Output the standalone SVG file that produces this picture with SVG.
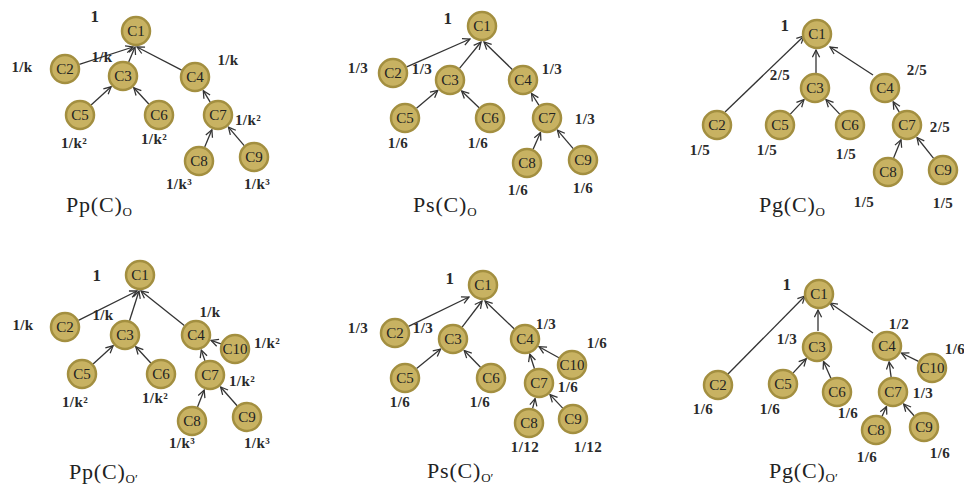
<svg xmlns="http://www.w3.org/2000/svg" width="964" height="487" viewBox="0 0 964 487">
<style>
.n circle{fill:#c8b262;stroke:#a38f40;stroke-width:2.5}
.n text{font-family:"Liberation Serif","Times New Roman",serif;font-size:15px;fill:#222;text-anchor:middle}
.e line{stroke:#333;stroke-width:1.3;marker-end:url(#ah)}
.w{font-family:"Liberation Serif","Times New Roman",serif;font-size:15px;font-weight:bold;fill:#2a2a2a;text-anchor:middle;letter-spacing:0.4px}
.one{font-size:17px}
.t{font-family:"Liberation Serif","Times New Roman",serif;font-size:22px;fill:#222;letter-spacing:0.8px}
.s{font-size:13px;letter-spacing:0}
</style>
<defs>
<marker id="ah" viewBox="0 0 10 10" refX="9" refY="5" markerWidth="9" markerHeight="9" markerUnits="userSpaceOnUse" orient="auto">
<path d="M1,1 L9,5 L1,9" fill="none" stroke="#333" stroke-width="1.4"/>
</marker>
</defs>
<rect width="964" height="487" fill="#fff"/>

<g id="connectors" class="e">
<!-- panel 1 -->
<line x1="79.3" y1="64.4" x2="133" y2="47"/>
<line x1="128.7" y1="62.1" x2="135" y2="47"/>
<line x1="181.7" y1="70.1" x2="137" y2="47"/>
<line x1="91.1" y1="104.9" x2="111.1" y2="86.8"/>
<line x1="148.8" y1="104" x2="133.8" y2="87.8"/>
<line x1="210.2" y1="102.2" x2="203.3" y2="90.7"/>
<line x1="204.7" y1="147.1" x2="211.9" y2="129.8"/>
<line x1="244.2" y1="145.6" x2="228.4" y2="127.1"/>
<!-- panel 2 -->
<line x1="406.7" y1="66.9" x2="470" y2="39"/>
<line x1="459.5" y1="68.4" x2="481" y2="42"/>
<line x1="512.3" y1="69.5" x2="484" y2="42"/>
<line x1="416.5" y1="108.3" x2="437.8" y2="90.3"/>
<line x1="479.1" y1="107.7" x2="461.6" y2="91"/>
<line x1="539" y1="105.3" x2="531.5" y2="93.5"/>
<line x1="533.1" y1="149.3" x2="540.5" y2="132.6"/>
<line x1="573.2" y1="148.6" x2="557.4" y2="130.1"/>
<!-- panel 3 -->
<line x1="725" y1="112" x2="804" y2="36"/>
<line x1="816" y1="73" x2="816" y2="50"/>
<line x1="873" y1="75" x2="830" y2="47"/>
<line x1="790.3" y1="114.1" x2="804" y2="99.6"/>
<line x1="839.7" y1="114.1" x2="826" y2="99.6"/>
<line x1="899.3" y1="112.1" x2="893.2" y2="101.8"/>
<line x1="893.6" y1="158.1" x2="901" y2="139.8"/>
<line x1="933.6" y1="158.3" x2="917" y2="137.5"/>
<!-- panel 4 -->
<line x1="78.4" y1="320.3" x2="137" y2="291"/>
<line x1="129.5" y1="320.7" x2="139" y2="291"/>
<line x1="184.3" y1="325.6" x2="141" y2="291"/>
<line x1="93.1" y1="363.9" x2="113.1" y2="345.8"/>
<line x1="150.8" y1="363" x2="135.8" y2="346.8"/>
<line x1="205" y1="360.9" x2="201.3" y2="350.1"/>
<line x1="220.9" y1="343.9" x2="211.1" y2="340.4"/>
<line x1="197.5" y1="407" x2="204.2" y2="390.1"/>
<line x1="237.1" y1="405.8" x2="220.6" y2="387"/>
<!-- panel 5 -->
<line x1="408.5" y1="326.4" x2="469" y2="297"/>
<line x1="462.1" y1="327.1" x2="482" y2="301"/>
<line x1="514.1" y1="328.7" x2="485" y2="301"/>
<line x1="416.6" y1="368.5" x2="440.6" y2="349.1"/>
<line x1="480.5" y1="367.3" x2="464.2" y2="350.5"/>
<line x1="534.5" y1="368.7" x2="529.8" y2="354.2"/>
<line x1="558.9" y1="357.7" x2="539" y2="346.7"/>
<line x1="532.6" y1="408.4" x2="535.1" y2="398.5"/>
<line x1="562.7" y1="408.1" x2="550" y2="394.6"/>
<!-- panel 6 -->
<line x1="727" y1="375" x2="805" y2="296"/>
<line x1="818" y1="331" x2="818" y2="310"/>
<line x1="873" y1="333" x2="830" y2="303"/>
<line x1="793.2" y1="372.9" x2="806.2" y2="358.8"/>
<line x1="830.9" y1="378.3" x2="823.5" y2="361.6"/>
<line x1="891.1" y1="377.1" x2="889.1" y2="361.9"/>
<line x1="918.5" y1="361.4" x2="901.4" y2="353"/>
<line x1="882.1" y1="416.3" x2="886.5" y2="406.6"/>
<line x1="914.1" y1="415.8" x2="903.6" y2="404"/>
</g>

<!-- panel 1 nodes -->
<g id="p1-C1" class="n"><circle cx="136" cy="31" r="14"/><text x="136" y="36">C1</text></g>
<g id="p1-C2" class="n"><circle cx="65" cy="69" r="14"/><text x="65" y="74">C2</text></g>
<g id="p1-C3" class="n"><circle cx="123" cy="76" r="14"/><text x="123" y="81">C3</text></g>
<g id="p1-C4" class="n"><circle cx="195" cy="77" r="14"/><text x="195" y="82">C4</text></g>
<g id="p1-C5" class="n"><circle cx="80" cy="115" r="14"/><text x="80" y="120">C5</text></g>
<g id="p1-C6" class="n"><circle cx="159" cy="115" r="14"/><text x="159" y="120">C6</text></g>
<g id="p1-C7" class="n"><circle cx="218" cy="115" r="14"/><text x="218" y="120">C7</text></g>
<g id="p1-C8" class="n"><circle cx="199" cy="161" r="14"/><text x="199" y="166">C8</text></g>
<g id="p1-C9" class="n"><circle cx="254" cy="157" r="14"/><text x="254" y="162">C9</text></g>

<!-- panel 2 nodes -->
<g id="p2-C1" class="n"><circle cx="482" cy="26" r="14"/><text x="482" y="31">C1</text></g>
<g id="p2-C2" class="n"><circle cx="393" cy="73" r="14"/><text x="393" y="78">C2</text></g>
<g id="p2-C3" class="n"><circle cx="450" cy="80" r="14"/><text x="450" y="85">C3</text></g>
<g id="p2-C4" class="n"><circle cx="523" cy="80" r="14"/><text x="523" y="85">C4</text></g>
<g id="p2-C5" class="n"><circle cx="405" cy="118" r="14"/><text x="405" y="123">C5</text></g>
<g id="p2-C6" class="n"><circle cx="490" cy="118" r="14"/><text x="490" y="123">C6</text></g>
<g id="p2-C7" class="n"><circle cx="547" cy="118" r="14"/><text x="547" y="123">C7</text></g>
<g id="p2-C8" class="n"><circle cx="527" cy="163" r="14"/><text x="527" y="168">C8</text></g>
<g id="p2-C9" class="n"><circle cx="583" cy="160" r="14"/><text x="583" y="165">C9</text></g>

<!-- panel 3 nodes -->
<g id="p3-C1" class="n"><circle cx="817" cy="34" r="14"/><text x="817" y="39">C1</text></g>
<g id="p3-C2" class="n"><circle cx="717" cy="125" r="14"/><text x="717" y="130">C2</text></g>
<g id="p3-C3" class="n"><circle cx="815" cy="88" r="14"/><text x="815" y="93">C3</text></g>
<g id="p3-C4" class="n"><circle cx="885" cy="88" r="14"/><text x="885" y="93">C4</text></g>
<g id="p3-C5" class="n"><circle cx="780" cy="125" r="14"/><text x="780" y="130">C5</text></g>
<g id="p3-C6" class="n"><circle cx="850" cy="125" r="14"/><text x="850" y="130">C6</text></g>
<g id="p3-C7" class="n"><circle cx="907" cy="125" r="14"/><text x="907" y="130">C7</text></g>
<g id="p3-C8" class="n"><circle cx="888" cy="172" r="14"/><text x="888" y="177">C8</text></g>
<g id="p3-C9" class="n"><circle cx="943" cy="170" r="14"/><text x="943" y="175">C9</text></g>

<!-- panel 4 nodes -->
<g id="p4-C1" class="n"><circle cx="140" cy="275" r="14"/><text x="140" y="280">C1</text></g>
<g id="p4-C2" class="n"><circle cx="65" cy="327" r="14"/><text x="65" y="332">C2</text></g>
<g id="p4-C3" class="n"><circle cx="125" cy="335" r="14"/><text x="125" y="340">C3</text></g>
<g id="p4-C4" class="n"><circle cx="196" cy="335" r="14"/><text x="196" y="340">C4</text></g>
<g id="p4-C10" class="n"><circle cx="235" cy="349" r="14"/><text x="235" y="354">C10</text></g>
<g id="p4-C5" class="n"><circle cx="82" cy="374" r="14"/><text x="82" y="379">C5</text></g>
<g id="p4-C6" class="n"><circle cx="161" cy="374" r="14"/><text x="161" y="379">C6</text></g>
<g id="p4-C7" class="n"><circle cx="210" cy="375" r="14"/><text x="210" y="380">C7</text></g>
<g id="p4-C8" class="n"><circle cx="192" cy="421" r="14"/><text x="192" y="426">C8</text></g>
<g id="p4-C9" class="n"><circle cx="247" cy="417" r="14"/><text x="247" y="422">C9</text></g>

<!-- panel 5 nodes -->
<g id="p5-C1" class="n"><circle cx="483" cy="285" r="14"/><text x="483" y="290">C1</text></g>
<g id="p5-C2" class="n"><circle cx="395" cy="333" r="14"/><text x="395" y="338">C2</text></g>
<g id="p5-C3" class="n"><circle cx="453" cy="339" r="14"/><text x="453" y="344">C3</text></g>
<g id="p5-C4" class="n"><circle cx="525" cy="339" r="14"/><text x="525" y="344">C4</text></g>
<g id="p5-C10" class="n"><circle cx="572" cy="365" r="14"/><text x="572" y="370">C10</text></g>
<g id="p5-C5" class="n"><circle cx="405" cy="378" r="14"/><text x="405" y="383">C5</text></g>
<g id="p5-C6" class="n"><circle cx="491" cy="378" r="14"/><text x="491" y="383">C6</text></g>
<g id="p5-C7" class="n"><circle cx="539" cy="383" r="14"/><text x="539" y="388">C7</text></g>
<g id="p5-C8" class="n"><circle cx="529" cy="423" r="14"/><text x="529" y="428">C8</text></g>
<g id="p5-C9" class="n"><circle cx="573" cy="419" r="14"/><text x="573" y="424">C9</text></g>

<!-- panel 6 nodes -->
<g id="p6-C1" class="n"><circle cx="819" cy="294" r="14"/><text x="819" y="299">C1</text></g>
<g id="p6-C2" class="n"><circle cx="718" cy="385" r="14"/><text x="718" y="390">C2</text></g>
<g id="p6-C3" class="n"><circle cx="817" cy="347" r="14"/><text x="817" y="352">C3</text></g>
<g id="p6-C4" class="n"><circle cx="887" cy="346" r="14"/><text x="887" y="351">C4</text></g>
<g id="p6-C10" class="n"><circle cx="932" cy="368" r="14"/><text x="932" y="373">C10</text></g>
<g id="p6-C5" class="n"><circle cx="783" cy="384" r="14"/><text x="783" y="389">C5</text></g>
<g id="p6-C6" class="n"><circle cx="837" cy="392" r="14"/><text x="837" y="397">C6</text></g>
<g id="p6-C7" class="n"><circle cx="893" cy="392" r="14"/><text x="893" y="397">C7</text></g>
<g id="p6-C8" class="n"><circle cx="876" cy="430" r="14"/><text x="876" y="435">C8</text></g>
<g id="p6-C9" class="n"><circle cx="924" cy="427" r="14"/><text x="924" y="432">C9</text></g>

<g id="weights">
<!-- panel 1 -->
<text class="w one" x="95" y="22">1</text>
<text class="w" x="22" y="72">1/k</text>
<text class="w" x="102" y="62">1/k</text>
<text class="w" x="228" y="65">1/k</text>
<text class="w" x="74" y="148">1/k²</text>
<text class="w" x="154" y="144">1/k²</text>
<text class="w" x="248" y="125">1/k²</text>
<text class="w" x="179" y="189">1/k³</text>
<text class="w" x="257" y="189">1/k³</text>
<!-- panel 2 -->
<text class="w one" x="448" y="24">1</text>
<text class="w" x="358" y="73">1/3</text>
<text class="w" x="422" y="74">1/3</text>
<text class="w" x="552" y="74">1/3</text>
<text class="w" x="585" y="124">1/3</text>
<text class="w" x="398" y="148">1/6</text>
<text class="w" x="478" y="148">1/6</text>
<text class="w" x="518" y="195">1/6</text>
<text class="w" x="583" y="193">1/6</text>
<!-- panel 3 -->
<text class="w one" x="785" y="31">1</text>
<text class="w" x="780" y="80">2/5</text>
<text class="w" x="917" y="75">2/5</text>
<text class="w" x="940" y="132">2/5</text>
<text class="w" x="700" y="155">1/5</text>
<text class="w" x="767" y="155">1/5</text>
<text class="w" x="846" y="159">1/5</text>
<text class="w" x="864" y="207">1/5</text>
<text class="w" x="943" y="208">1/5</text>
<!-- panel 4 -->
<text class="w one" x="97" y="281">1</text>
<text class="w" x="23" y="330">1/k</text>
<text class="w" x="103" y="320">1/k</text>
<text class="w" x="210" y="317">1/k</text>
<text class="w" x="267" y="348">1/k²</text>
<text class="w" x="242" y="386">1/k²</text>
<text class="w" x="75" y="407">1/k²</text>
<text class="w" x="155" y="403">1/k²</text>
<text class="w" x="182" y="448">1/k³</text>
<text class="w" x="257" y="448">1/k³</text>
<!-- panel 5 -->
<text class="w one" x="450" y="284">1</text>
<text class="w" x="358" y="333">1/3</text>
<text class="w" x="423" y="333">1/3</text>
<text class="w" x="546" y="329">1/3</text>
<text class="w" x="597" y="348">1/6</text>
<text class="w" x="568" y="392">1/6</text>
<text class="w" x="400" y="407">1/6</text>
<text class="w" x="480" y="407">1/6</text>
<text class="w" x="525" y="452">1/12</text>
<text class="w" x="588" y="452">1/12</text>
<!-- panel 6 -->
<text class="w one" x="787" y="290">1</text>
<text class="w" x="787" y="344">1/3</text>
<text class="w" x="899" y="329">1/2</text>
<text class="w" x="955" y="354">1/6</text>
<text class="w" x="923" y="398">1/3</text>
<text class="w" x="703" y="414">1/6</text>
<text class="w" x="770" y="414">1/6</text>
<text class="w" x="848" y="418">1/6</text>
<text class="w" x="867" y="462">1/6</text>
<text class="w" x="940" y="458">1/6</text>
</g>

<g id="titles">
<text class="t" x="66" y="212">Pp(C)<tspan class="s" dy="4">O</tspan></text>
<text class="t" x="413" y="212">Ps(C)<tspan class="s" dy="4">O</tspan></text>
<text class="t" x="759" y="212">Pg(C)<tspan class="s" dy="4">O</tspan></text>
<text class="t" x="69" y="479">Pp(C)<tspan class="s" dy="4">O′</tspan></text>
<text class="t" x="427" y="478">Ps(C)<tspan class="s" dy="4">O′</tspan></text>
<text class="t" x="769" y="478">Pg(C)<tspan class="s" dy="4">O′</tspan></text>
</g>
</svg>
